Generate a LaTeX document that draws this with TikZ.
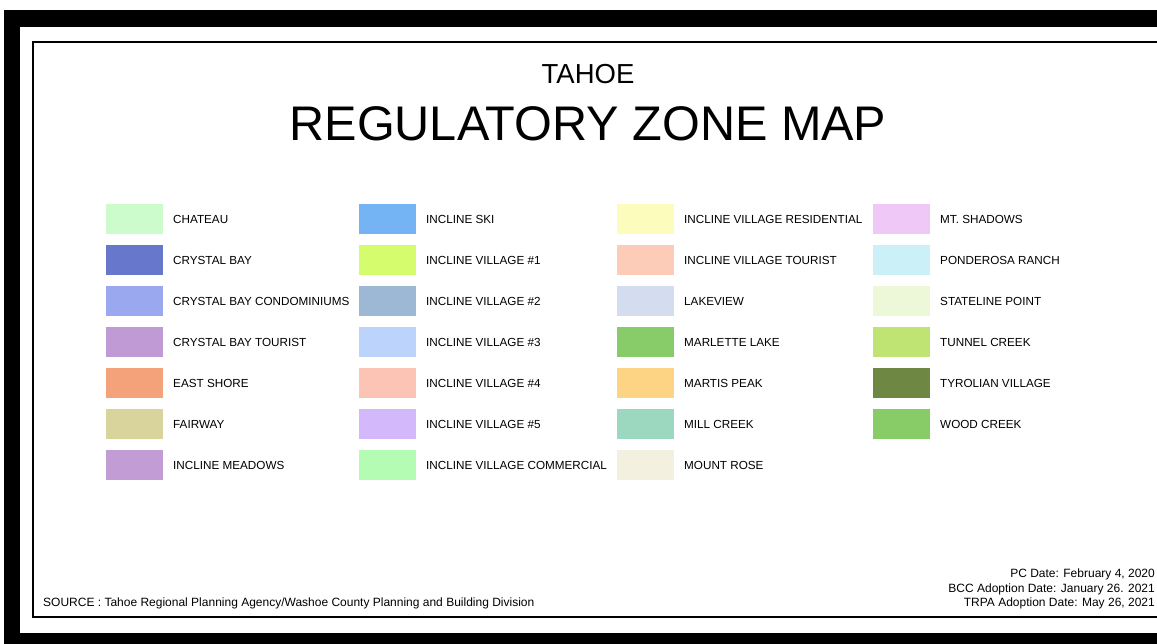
\documentclass[tikz,border=0pt]{standalone}
\usepackage{fontspec}
\setmainfont{Liberation Sans}
\definecolor{cA1}{RGB}{204,252,204}
\definecolor{cA2}{RGB}{102,119,204}
\definecolor{cA3}{RGB}{154,168,240}
\definecolor{cA4}{RGB}{192,154,212}
\definecolor{cA5}{RGB}{244,162,122}
\definecolor{cA6}{RGB}{216,212,156}
\definecolor{cA7}{RGB}{194,156,212}
\definecolor{cB1}{RGB}{116,180,244}
\definecolor{cB2}{RGB}{212,252,108}
\definecolor{cB3}{RGB}{156,184,212}
\definecolor{cB4}{RGB}{188,212,252}
\definecolor{cB5}{RGB}{252,196,180}
\definecolor{cB6}{RGB}{212,184,252}
\definecolor{cB7}{RGB}{180,252,180}
\definecolor{cC1}{RGB}{252,252,188}
\definecolor{cC2}{RGB}{252,204,184}
\definecolor{cC3}{RGB}{212,220,240}
\definecolor{cC4}{RGB}{136,204,106}
\definecolor{cC5}{RGB}{252,212,132}
\definecolor{cC6}{RGB}{156,216,192}
\definecolor{cC7}{RGB}{244,240,224}
\definecolor{cD1}{RGB}{240,200,248}
\definecolor{cD2}{RGB}{204,240,248}
\definecolor{cD3}{RGB}{236,248,216}
\definecolor{cD4}{RGB}{192,228,116}
\definecolor{cD5}{RGB}{110,136,68}
\definecolor{cD6}{RGB}{136,204,104}
\begin{document}
\begin{tikzpicture}[x=1pt,y=-1pt,
  swatch/.style={rectangle, minimum width=57pt, minimum height=30pt, inner sep=0pt, anchor=north west},
  zlabel/.style={anchor=base west, inner sep=0pt, font=\fontsize{11.7}{13}\selectfont},
  foot/.style={inner sep=0pt, font=\fontsize{12}{13}\selectfont}]
\useasboundingbox (0,0) rectangle (1157,644);
\clip (0,0) rectangle (1157,644);
\fill[white] (0,0) rectangle (1157,644);
% outer black frame
\fill[black] (4,10) rectangle (1180,660);
\fill[white] (20,27) rectangle (1180,633);
% inner frame
\draw[line width=1.6pt] (33,42) rectangle (1180,617);
% titles
\node[anchor=base, inner sep=0pt, font=\fontsize{27.5}{28}\selectfont] (tahoe) at (588,83.5) {TAHOE};
\node[anchor=base, inner sep=0pt, font=\fontsize{48.6}{49}\selectfont] (title) at (588,141) {REGULATORY ZONE MAP};
% legend
\foreach \x/\r/\c/\t in {
  106/0/cA1/CHATEAU, 106/1/cA2/CRYSTAL BAY, 106/2/cA3/CRYSTAL BAY CONDOMINIUMS,
  106/3/cA4/CRYSTAL BAY TOURIST, 106/4/cA5/EAST SHORE, 106/5/cA6/FAIRWAY,
  106/6/cA7/INCLINE MEADOWS,
  359/0/cB1/INCLINE SKI, 359/1/cB2/INCLINE VILLAGE \#1, 359/2/cB3/INCLINE VILLAGE \#2,
  359/3/cB4/INCLINE VILLAGE \#3, 359/4/cB5/INCLINE VILLAGE \#4, 359/5/cB6/INCLINE VILLAGE \#5,
  359/6/cB7/INCLINE VILLAGE COMMERCIAL,
  617/0/cC1/INCLINE VILLAGE RESIDENTIAL, 617/1/cC2/INCLINE VILLAGE TOURIST,
  617/2/cC3/LAKEVIEW, 617/3/cC4/MARLETTE LAKE, 617/4/cC5/MARTIS PEAK,
  617/5/cC6/MILL CREEK, 617/6/cC7/MOUNT ROSE,
  873/0/cD1/MT. SHADOWS, 873/1/cD2/PONDEROSA RANCH, 873/2/cD3/STATELINE POINT,
  873/3/cD4/TUNNEL CREEK, 873/4/cD5/TYROLIAN VILLAGE, 873/5/cD6/WOOD CREEK}
{
  \node[swatch, fill=\c] (s-\x-\r) at (\x,{204+41*\r}) {};
  \node[zlabel] (t-\x-\r) at ({\x+67},{204+41*\r+19.2}) {\t};
}
% footer
\node[foot, anchor=base west] (source) at (43,606.5) {SOURCE : Tahoe Regional Planning Agency/Washoe County Planning and Building Division};
\node[foot, anchor=base east] (pc) at (1155,577.5) {PC Date: February 4, 2020};
\node[foot, anchor=base east] (bcc) at (1155,592) {BCC Adoption Date: January 26. 2021};
\node[foot, anchor=base east] (trpa) at (1155,606.5) {TRPA Adoption Date: May 26, 2021};
\end{tikzpicture}
\end{document}
